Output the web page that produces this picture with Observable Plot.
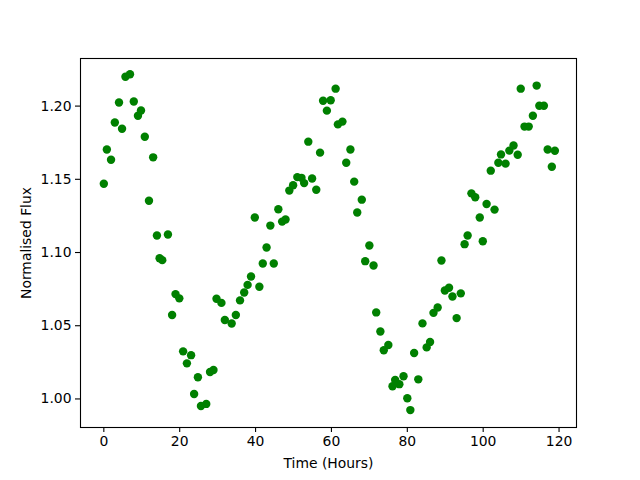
<!DOCTYPE html>
<html>
<head>
<meta charset="utf-8">
<script src="https://cdn.jsdelivr.net/npm/d3@7"></script>
<script src="https://cdn.jsdelivr.net/npm/@observablehq/plot@0.6"></script>
<style>
  html, body { margin: 0; padding: 0; background: white; }
</style>
</head>
<body>
<div id="chart"></div>
<script>
const hours = [0,0.8,1.9,2.9,4.0,4.8,5.7,6.9,7.9,9.0,9.8,10.8,11.9,13.0,14.0,14.7,15.4,16.9,18.0,18.9,19.9,20.9,21.9,23.0,23.8,24.8,25.6,27.0,28.0,28.9,29.7,31.0,31.9,33.7,34.8,35.9,37.0,37.9,38.8,39.8,41.0,41.9,42.9,43.9,44.8,46.0,47.0,47.9,48.9,49.9,51.0,52.1,52.8,53.9,54.9,56.0,57.0,57.8,58.8,59.8,61.1,61.7,62.9,63.9,65.0,66.0,66.8,68.0,68.9,70.0,71.1,71.8,72.9,73.8,75.0,76.1,76.8,77.9,79.0,80.0,80.8,81.8,82.9,84.0,85.1,86.0,86.9,88.0,89.0,89.9,91.0,91.9,93.0,94.1,95.1,95.9,96.9,97.9,99.1,99.9,100.9,102.0,103.0,104.0,104.7,105.9,106.9,108.0,109.1,109.9,110.9,112.0,113.1,114.1,114.8,116.0,117.0,118.1,118.9];
const flux = [1.1470,1.1704,1.1634,1.1888,1.2025,1.1845,1.2200,1.2217,1.2031,1.1934,1.1970,1.1791,1.1354,1.1650,1.1116,1.0961,1.0948,1.1123,1.0573,1.0716,1.0687,1.0325,1.0243,1.0299,1.0034,1.0148,0.9952,0.9966,1.0184,1.0198,1.0684,1.0656,1.0539,1.0515,1.0573,1.0673,1.0727,1.0779,1.0836,1.1239,1.0766,1.0925,1.1034,1.1184,1.0925,1.1295,1.1211,1.1225,1.1423,1.1459,1.1515,1.1510,1.1474,1.1757,1.1506,1.1429,1.1682,1.2036,1.1969,1.2040,1.2119,1.1875,1.1894,1.1613,1.1704,1.1484,1.1273,1.1361,1.0941,1.1048,1.0911,1.0591,1.0461,1.0333,1.0368,1.0087,1.0130,1.0101,1.0155,1.0005,0.9924,1.0314,1.0134,1.0516,1.0352,1.0389,1.0588,1.0625,1.0945,1.0741,1.0759,1.0700,1.0552,1.0721,1.1057,1.1116,1.1404,1.1377,1.1239,1.1077,1.1331,1.1559,1.1293,1.1613,1.1670,1.1607,1.1696,1.1731,1.1668,1.2119,1.1860,1.1860,1.1934,1.2140,1.2002,1.2002,1.1704,1.1586,1.1695];
const xTicks = [0,20,40,60,80,100,120];
const yTicks = [1.00,1.05,1.10,1.15,1.20];
const xLabel = "Time (Hours)";
const yLabel = "Normalised Flux";

const data = hours.map((t, i) => ({t, f: flux[i]}));

const chart = Plot.plot({
  width: 640,
  height: 480,
  marginLeft: 80,
  marginRight: 64,
  marginTop: 58,
  marginBottom: 53,
  style: {fontFamily: "DejaVu Sans", fontSize: "13.9px", color: "black", background: "white"},
  x: {domain: [-6.15, 124.6]},
  y: {domain: [0.9805, 1.2325]},
  marks: [
    Plot.dot(data, {x: "t", y: "f", r: 4.2, fill: "#008000", stroke: "none"}),
    Plot.frame({stroke: "black", strokeWidth: 1.1}),
    Plot.axisX({ticks: xTicks, tickSize: 5, tickPadding: 4, strokeWidth: 1.1, label: null, tickFormat: d3.format("d")}),
    Plot.axisY({ticks: yTicks, tickSize: 5, tickPadding: 4, strokeWidth: 1.1, label: null, tickFormat: d3.format(".2f")}),
    Plot.text([xLabel], {text: d => d, frameAnchor: "bottom", dy: 36, lineAnchor: "middle", fontSize: 13.9}),
    Plot.text([yLabel], {text: d => d, frameAnchor: "left", dx: -54, rotate: -90, lineAnchor: "middle", textAnchor: "middle", fontSize: 13.9})
  ]
});
document.getElementById("chart").appendChild(chart);
</script>
</body>
</html>
